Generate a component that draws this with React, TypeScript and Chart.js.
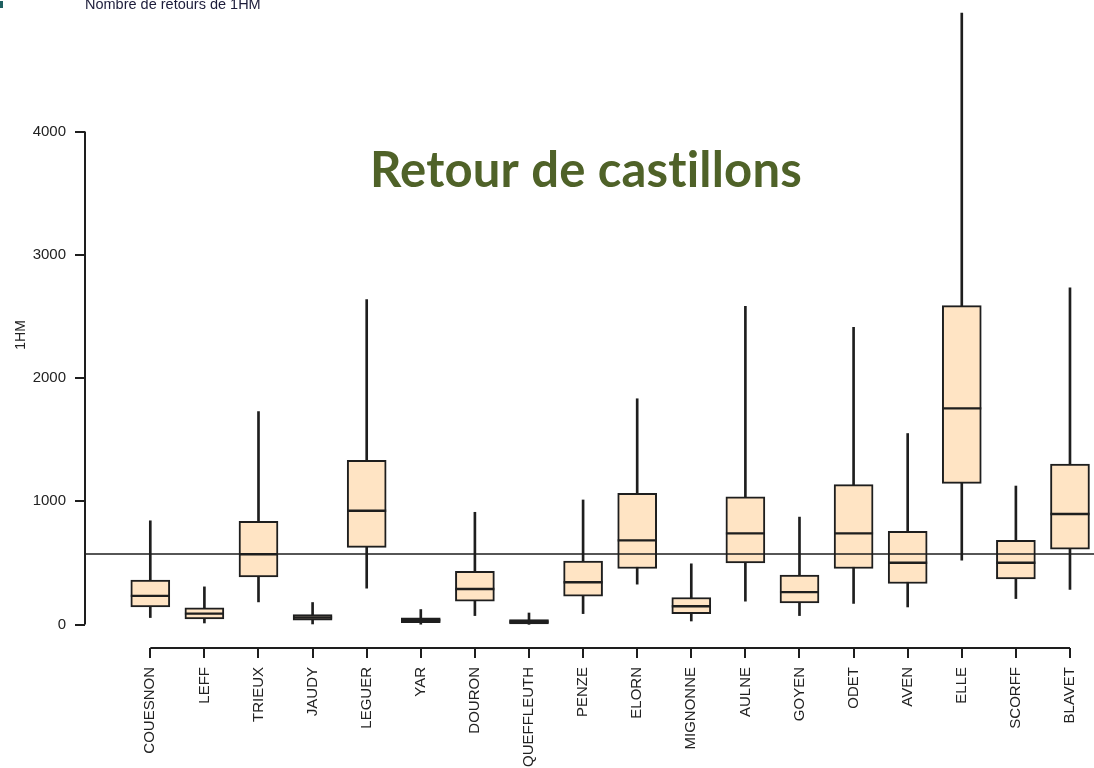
import { useEffect, useRef } from 'react';
import { Chart, registerables } from 'chart.js';

Chart.register(...registerables);

// ---- data ----
const categories = ['COUESNON', 'LEFF', 'TRIEUX', 'JAUDY', 'LEGUER', 'YAR', 'DOURON', 'QUEFFLEUTH', 'PENZE', 'ELORN', 'MIGNONNE', 'AULNE', 'GOYEN', 'ODET', 'AVEN', 'ELLE', 'SCORFF', 'BLAVET'];
const whiskerLow = [57, 13, 184, 5, 295, 3, 73, 2, 89, 328, 29, 189, 73, 171, 143, 523, 211, 285];
const quartile1 = [143, 46, 387, 35, 626, 16, 189, 5, 230, 455, 89, 501, 176, 455, 333, 1146, 371, 612];
const medians = [233, 89, 570, 57, 924, 35, 289, 23, 344, 683, 149, 740, 263, 740, 501, 1754, 501, 897];
const quartile3 = [360, 135, 837, 81, 1333, 54, 433, 41, 515, 1065, 220, 1037, 401, 1135, 756, 2588, 683, 1303];
const whiskerHigh = [842, 306, 1728, 179, 2637, 122, 911, 94, 1011, 1832, 493, 2582, 872, 2411, 1550, 4960, 1124, 2732];
const referenceLevel = 572;
const yTickValues = [0, 1000, 2000, 3000, 4000];
const chartTitle = 'Retour de castillons';
const topCaption = 'Nombre de retours de 1HM';
const yAxisTitle = '1HM';

const INK = '#1e1e1e';
const FILL = '#FFE4C4';
const AXIS_FONT = "'Liberation Sans', Arial, sans-serif";

const overlayPlugin = {
  id: 'overlay',
  afterDatasetsDraw(chart: any) {
    const { ctx, chartArea } = chart;
    const y = chart.scales.y.getPixelForValue(referenceLevel);
    ctx.save();
    ctx.strokeStyle = INK;
    ctx.lineWidth = 1.6;
    ctx.beginPath();
    ctx.moveTo(chartArea.left, y);
    ctx.lineTo(chartArea.right, y);
    ctx.stroke();
    ctx.restore();
  },
  afterDraw(chart: any) {
    const { ctx, chartArea } = chart;
    const xs = chart.scales.x;
    const ys = chart.scales.y;
    ctx.save();
    ctx.strokeStyle = INK;
    ctx.lineWidth = 2;
    // y axis line (spans tick range only)
    ctx.beginPath();
    ctx.moveTo(chartArea.left, ys.getPixelForValue(yTickValues[0]));
    ctx.lineTo(chartArea.left, ys.getPixelForValue(yTickValues[yTickValues.length - 1]));
    ctx.stroke();
    // x axis line (first to last category)
    ctx.beginPath();
    ctx.moveTo(xs.getPixelForValue(1), chartArea.bottom);
    ctx.lineTo(xs.getPixelForValue(categories.length), chartArea.bottom);
    ctx.stroke();

    // y axis title, rotated, reading bottom to top
    ctx.save();
    ctx.fillStyle = '#222';
    ctx.font = '14px ' + AXIS_FONT;
    ctx.textAlign = 'center';
    ctx.textBaseline = 'middle';
    ctx.translate(21, ys.getPixelForValue(2350));
    ctx.rotate(-Math.PI / 2);
    ctx.fillText(yAxisTitle, 0, 0);
    ctx.restore();

    // big green title
    ctx.fillStyle = '#4F6228';
    ctx.font = "bold 49px Lato, 'Open Sans', sans-serif";
    ctx.textAlign = 'left';
    ctx.textBaseline = 'alphabetic';
    try { (ctx as any).letterSpacing = '0.2px'; } catch (e) { /* ignore */ }
    ctx.fillText(chartTitle, 370, 187);
    try { (ctx as any).letterSpacing = '0px'; } catch (e) { /* ignore */ }

    // top caption (cut off at top of the picture)
    ctx.fillStyle = '#1c1c3a';
    ctx.font = '14.5px ' + AXIS_FONT;
    ctx.fillText(topCaption, 85, 9);

    // small teal mark at the top-left corner
    ctx.fillStyle = '#1f5f60';
    ctx.fillRect(0, 1, 3, 7);
    ctx.restore();
  },
};

export default function App() {
  const ref = useRef<HTMLCanvasElement>(null);

  useEffect(() => {
    document.body.style.margin = '0';
    const canvas = ref.current;
    if (!canvas) return;
    const idx = categories.map((_, i) => i + 1);

    const chart = new Chart(canvas, {
      type: 'bar',
      data: {
        datasets: [
          {
            type: 'line',
            label: 'median',
            data: idx.map((x, i) => ({ x, y: medians[i] })),
            showLine: false,
            pointStyle: 'line',
            pointRadius: 19.5,
            pointHoverRadius: 19.5,
            pointBorderWidth: 2.4,
            pointBorderColor: INK,
            borderColor: INK,
            order: 0,
          } as any,
          {
            type: 'bar',
            label: 'box',
            data: idx.map((x, i) => ({ x, y: [quartile1[i], quartile3[i]] })),
            backgroundColor: FILL,
            borderColor: INK,
            borderWidth: 2,
            borderSkipped: false,
            barThickness: 39,
            grouped: false,
            order: 1,
          } as any,
          {
            type: 'bar',
            label: 'whisker',
            data: idx.map((x, i) => ({ x, y: [whiskerLow[i], whiskerHigh[i]] })),
            backgroundColor: INK,
            borderWidth: 0,
            barThickness: 2,
            grouped: false,
            order: 2,
          } as any,
        ],
      },
      options: {
        responsive: false,
        animation: false,
        devicePixelRatio: 1,
        layout: { padding: 0, autoPadding: false },
        plugins: {
          legend: { display: false },
          tooltip: { enabled: false },
        },
        scales: {
          x: {
            type: 'linear',
            min: -0.207,
            max: 18.444,
            offset: false,
            border: { display: false },
            grid: {
              display: true,
              offset: false,
              drawOnChartArea: false,
              drawTicks: true,
              tickLength: 10,
              color: INK,
              lineWidth: 2,
            },
            afterBuildTicks: (scale: any) => {
              scale.ticks = idx.map((v) => ({ value: v }));
            },
            afterFit: (scale: any) => {
              scale.height = 120;
              scale.paddingLeft = 0;
              scale.paddingRight = 0;
            },
            ticks: {
              autoSkip: false,
              minRotation: 90,
              maxRotation: 90,
              padding: 9,
              color: '#222',
              font: { family: AXIS_FONT, size: 15 },
              callback: (value: any) => categories[Math.round(Number(value)) - 1] ?? '',
            },
          },
          y: {
            type: 'linear',
            min: -190,
            max: 5067,
            border: { display: false },
            grid: {
              display: true,
              drawOnChartArea: false,
              drawTicks: true,
              tickLength: 10,
              color: INK,
              lineWidth: 2,
            },
            afterBuildTicks: (scale: any) => {
              scale.ticks = yTickValues.map((v) => ({ value: v }));
            },
            afterFit: (scale: any) => {
              scale.width = 85;
              scale.paddingTop = 0;
              scale.paddingBottom = 0;
            },
            title: { display: false },
            ticks: {
              padding: 9,
              color: '#222',
              font: { family: AXIS_FONT, size: 15 },
              callback: (value: any) => String(value),
            },
          },
        },
      } as any,
      plugins: [overlayPlugin],
    });

    return () => chart.destroy();
  }, []);

  return (
    <div style={{ position: 'absolute', left: 0, top: 0, width: 1094, height: 768, background: '#fff' }}>
      <canvas ref={ref} width={1094} height={768} style={{ display: 'block' }} />
    </div>
  );
}
